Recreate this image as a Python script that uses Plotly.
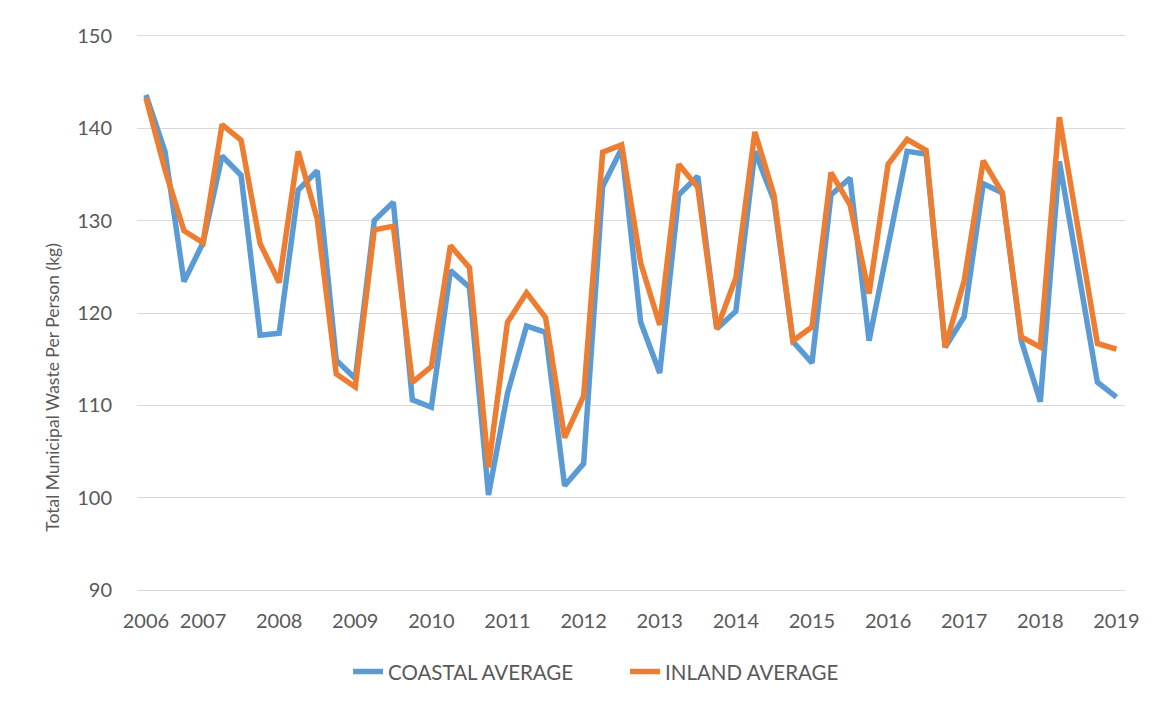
import plotly.graph_objects as go

# Quarterly observations, 52 points (index 0..51)
coastal = [143.6, 137.5, 123.4, 127.6, 137.0, 134.9, 117.6, 117.8, 133.3, 135.4,
           114.9, 112.9, 130.0, 132.0, 110.6, 109.8, 124.6, 122.8, 100.3, 111.3,
           118.6, 117.9, 101.3, 103.7, 133.7, 137.8, 119.0, 113.5, 132.8, 134.8,
           118.3, 120.2, 137.5, 132.2, 116.9, 114.6, 132.8, 134.6, 117.0, 127.3,
           137.5, 137.2, 116.3, 119.6, 134.0, 133.0, 117.0, 110.4, 136.4, 124.5,
           112.5, 110.9]
inland = [143.3, 135.5, 128.9, 127.6, 140.4, 138.7, 127.5, 123.3, 137.5, 130.2,
          113.4, 112.0, 129.0, 129.4, 112.5, 114.2, 127.3, 124.9, 103.3, 119.0,
          122.2, 119.5, 106.5, 111.0, 137.4, 138.2, 125.4, 118.7, 136.1, 133.6,
          118.3, 123.8, 139.6, 132.8, 117.0, 118.5, 135.2, 131.7, 122.1, 136.1,
          138.8, 137.6, 116.3, 123.5, 136.5, 133.0, 117.4, 116.3, 141.2, 128.6,
          116.7, 116.1]
tick_pos = [0, 3, 7, 11, 15, 19, 23, 27, 31, 35, 39, 43, 47, 51]
tick_text = ["2006", "2007", "2008", "2009", "2010", "2011", "2012", "2013",
             "2014", "2015", "2016", "2017", "2018", "2019"]
y_ticks = [90, 100, 110, 120, 130, 140, 150]
y_title = "Total Municipal Waste Per Person (kg)"

x = list(range(len(coastal)))
FONT = "Lato, 'Open Sans', sans-serif"
GREY = "#595959"

fig = go.Figure()
fig.add_trace(go.Scatter(x=x, y=coastal, mode="lines", name="COASTAL AVERAGE",
                         line=dict(color="#5B9BD5", width=5.5)))
fig.add_trace(go.Scatter(x=x, y=inland, mode="lines", name="INLAND AVERAGE",
                         line=dict(color="#ED7D31", width=5.5)))

fig.add_annotation(text=y_title, textangle=-90, xref="paper", yref="paper",
                   x=-0.085, y=0.366, xanchor="center", yanchor="middle",
                   showarrow=False, font=dict(size=17.5, color=GREY, family=FONT))

fig.update_layout(
    width=1159, height=709,
    margin=dict(l=129, r=42, t=26, b=125, autoexpand=False),
    paper_bgcolor="white", plot_bgcolor="white",
    font=dict(family=FONT, size=20, color=GREY),
    showlegend=True,
    legend=dict(orientation="h", x=0.2136, xanchor="left", y=-0.143, yanchor="middle",
                font=dict(size=20.5, color=GREY), tracegroupgap=0,
                entrywidth=232, entrywidthmode="pixels"),
    xaxis=dict(range=[-0.47, 51.45], tickmode="array", tickvals=tick_pos, ticktext=tick_text,
               showgrid=False, zeroline=False, showline=False,
               ticks="outside", ticklen=11, tickcolor="rgba(0,0,0,0)",
               tickfont=dict(size=20, color=GREY)),
    yaxis=dict(range=[89.8, 150.2], tickmode="array", tickvals=y_ticks,
               showgrid=True, gridcolor="#D9D9D9", gridwidth=1.3, zeroline=False, showline=False,
               ticks="outside", ticklen=20, tickcolor="rgba(0,0,0,0)",
               tickfont=dict(size=20, color=GREY)),
)

fig.write_html("out.html")
